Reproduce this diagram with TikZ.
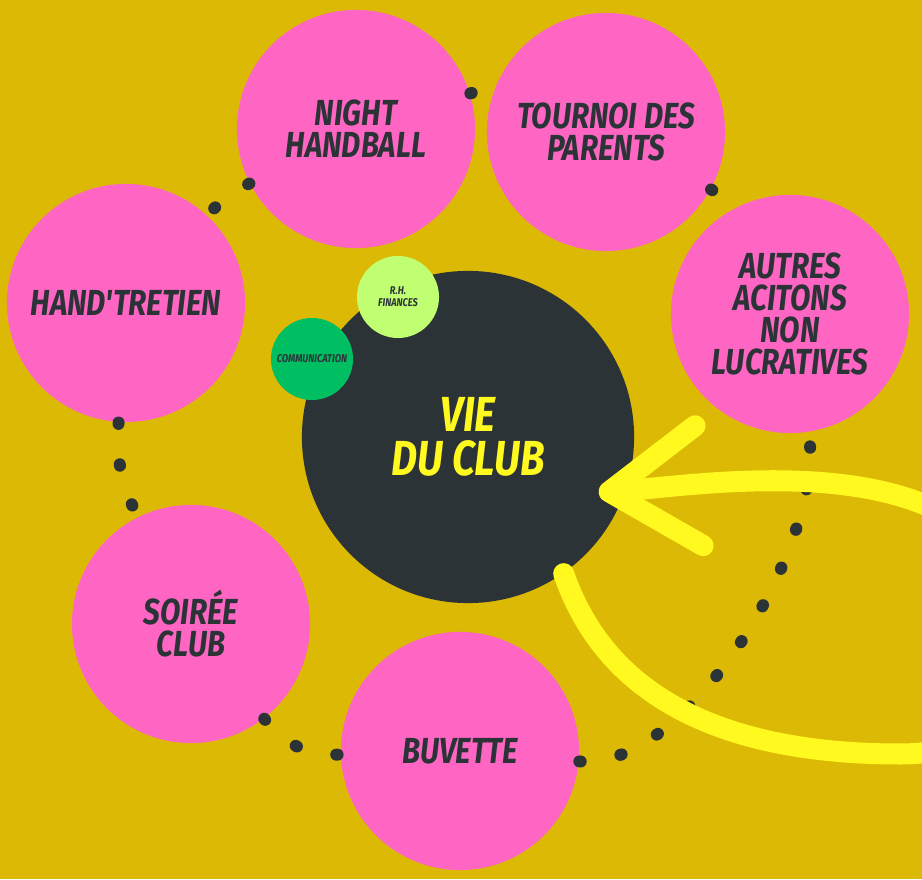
\documentclass[tikz,border=0pt]{standalone}
\usepackage{fontspec}
\newfontfamily\brushfont{Fira Sans}[FakeStretch=0.82]
\usepackage{xcolor}
\usetikzlibrary{arrows.meta,calc}

\definecolor{clubbg}{HTML}{DBB904}
\definecolor{clubpink}{HTML}{FF66C4}
\definecolor{clubink}{HTML}{2C3337}
\definecolor{clubyellow}{HTML}{FFF91F}
\definecolor{lightgreen}{HTML}{C1FF72}
\definecolor{deepgreen}{HTML}{00BF63}

\begin{document}
\begin{tikzpicture}[
        x=0.01cm, y=0.01cm,
        pinkdisc/.style={circle, fill=clubpink, minimum size=2.38cm, inner sep=0pt, align=center, text=clubink, font=\brushfont\bfseries\itshape\fontsize{10.3}{9.1}\selectfont},
        hubdisc/.style={circle, fill=clubink, minimum size=3.32cm, inner sep=0pt, align=center, text=clubyellow, font=\brushfont\bfseries\itshape\fontsize{14}{12.5}\selectfont},
        smalldisc/.style={circle, minimum size=0.82cm, inner sep=0pt, align=center, text=clubink, font=\brushfont\bfseries\itshape\fontsize{3.2}{3.4}\selectfont},
        dotring/.style={draw=clubink, line width=0.12cm, line cap=round, dash pattern=on 0.4pt off 11.5pt},
        loopline/.style={draw=clubyellow, line width=0.21cm, line cap=round, -{Straight Barb[length=9mm, width=12mm, line width=6pt, round]}}
    ]
    
    % Canvas
    \useasboundingbox (0,0) rectangle (922,879);
    \clip (0,0) rectangle (922,879);
    \fill [clubbg] (0,0) rectangle (922,879);
    
    % Hub
    \node [hubdisc] (vie) at (468,442) {VIE\\DU CLUB};
    \node [smalldisc, fill=lightgreen] (rh) at (398,582) {R.H.\\FINANCES};
    \node [smalldisc, fill=deepgreen] (comm) at (312,520) {COMMUNICATION};
    
    % Outer discs
    \node [pinkdisc] (night) at (356,750) {NIGHT\\HANDBALL};
    \node [pinkdisc] (tournoi) at (606,747) {TOURNOI DES\\PARENTS};
    \node [pinkdisc] (hand) at (126,576) {HAND'TRETIEN};
    \node [pinkdisc] (autres) at (790,565) {AUTRES\\ACITONS\\NON\\LUCRATIVES};
    \node [pinkdisc] (soiree) at (191,255) {SOIRÉE\\CLUB};
    \node [pinkdisc] (buvette) at (460,128) {BUVETTE};
    
    % Dotted ring
    \path [dotring] (tournoi) to[bend left=16] (autres);
    \path [dotring] (night) to[bend left=18] (tournoi);
    \path [dotring] (night) to[bend right=10] (hand);
    \path [dotring] (hand) to[bend right=15] (soiree);
    \path [dotring] (soiree) to[bend right=27] (buvette);
    \path [dotring] (buvette) to[out=-5, in=-81, looseness=0.7] (autres);
    
    % Loop arrow
    \coordinate (tip) at ($(vie.center)+(-23:142)$);
    \path [loopline] (vie.-55) .. controls (590,230) and (660,125) .. (900,125)
        .. controls (1080,125) and (1080,340) .. (950,362)
        .. controls (850,420) and (680,392) .. (tip);
    
\end{tikzpicture}
\end{document}
